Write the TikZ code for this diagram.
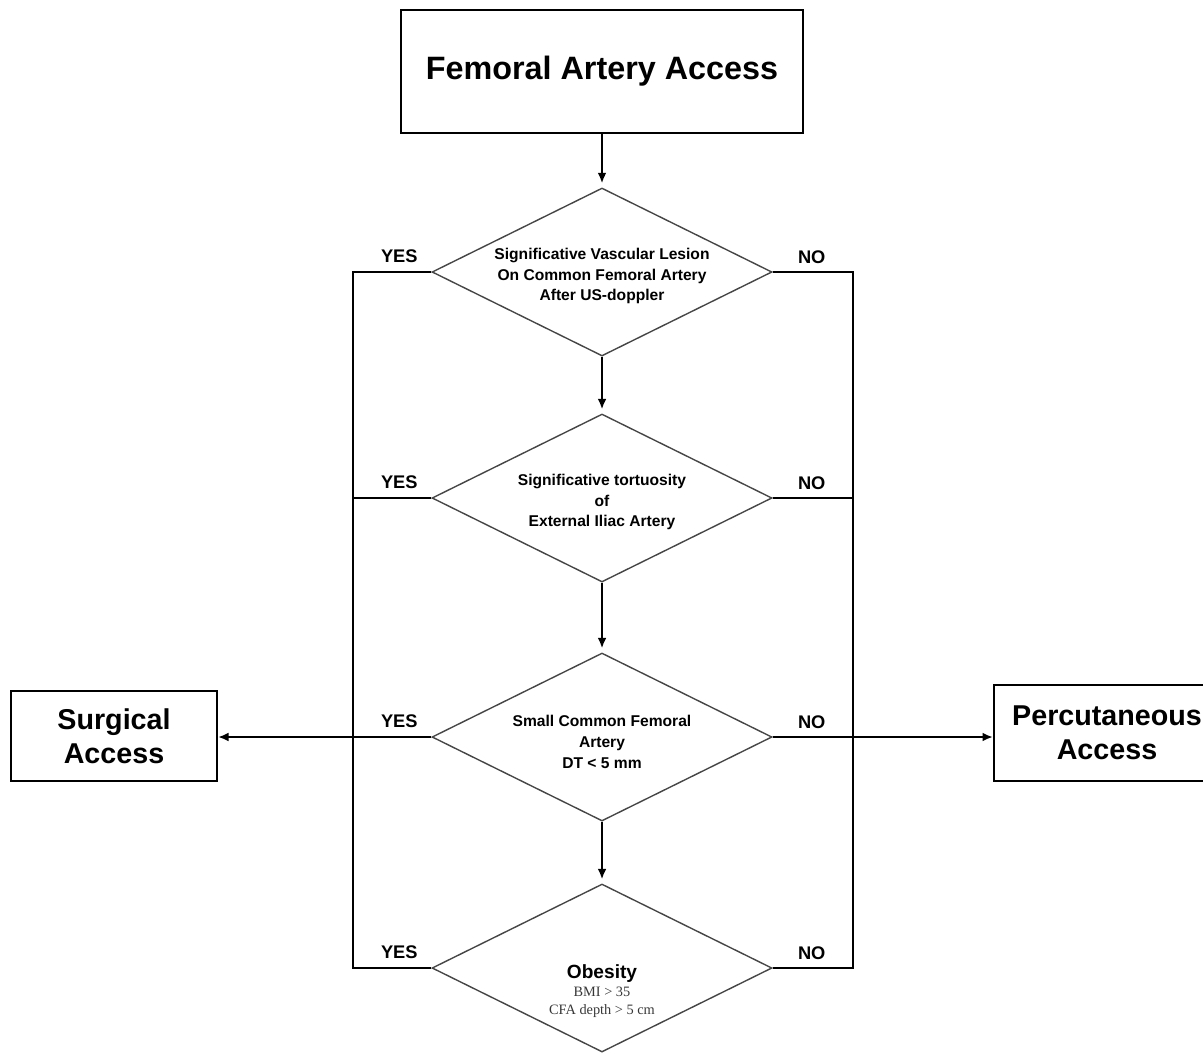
\documentclass[tikz,border=0pt]{standalone}
\usepackage{fontspec}
\setmainfont{Liberation Sans}
\newfontfamily\notefont{Liberation Serif}
\usepackage{tikz}
\usetikzlibrary{arrows.meta, positioning, shapes.geometric, calc}
\definecolor{edgegray}{RGB}{70,70,70}
\definecolor{notegray}{RGB}{55,55,55}

\begin{document}
\begin{tikzpicture}[
        x=0.25mm, y=-0.25mm,
        entry/.style={draw, line width=0.6mm, minimum width=100.5mm, minimum height=30.75mm, font=\fontsize{23}{27}\selectfont\bfseries},
        outcome/.style={draw, line width=0.55mm, align=center, inner sep=0pt, font=\fontsize{20.4}{24.5}\selectfont\bfseries},
        decision/.style={draw=edgegray, diamond, line width=0.35mm, inner sep=0pt, minimum width=85mm, minimum height=42mm},
        question/.style={align=center, inner sep=0pt, font=\fontsize{11.1}{14.8}\selectfont\bfseries},
        answer/.style={anchor=base, inner sep=0pt, font=\fontsize{13}{15}\selectfont\bfseries},
        link/.style={line width=0.5mm},
        arrow/.style={link, -{Latex[length=2.6mm, width=2.2mm]}, shorten >=1mm}
    ]
    \useasboundingbox (0,0) rectangle (1203,1052);

    % main column
    \node[entry] (femoral) at (602,71.5) {Femoral Artery Access};
    \node[decision] (lesion) at (602,272) {};
    \node[decision] (tortuosity) at (602,498) {};
    \node[decision] (small) at (602,737) {};
    \node[decision] (obesity) at (602,968) {};

    \node[question] (lesiontext) at (602,276) {Significative Vascular Lesion\\On Common Femoral Artery\\After US-doppler};
    \node[question] (tortuositytext) at (602,502) {Significative tortuosity\\of\\External Iliac Artery};
    \node[question] (smalltext) at (602,742) {Small Common Femoral\\Artery\\DT < 5 mm};
    \node[align=center, inner sep=0pt, text=notegray, font=\notefont\fontsize{10.2}{13}\selectfont] (obesitytext) at (602,991)
        {{\rmfamily\bfseries\color{black}\fontsize{13.6}{15}\selectfont Obesity}\\BMI > 35\\CFA depth > 5 cm};

    % outcomes
    \node[outcome, minimum width=51.5mm, minimum height=22.5mm] (surgical) at (114,736) {Surgical\\Access};
    \node[outcome, minimum width=56.5mm, minimum height=24mm] (percutaneous) at (1107,733) {Percutaneous\\Access};

    \coordinate (leftbus) at (353,0);
    \coordinate (rightbus) at (853,0);

    \draw[arrow] (femoral) -- (lesion);
    \draw[arrow] (lesion) -- (tortuosity);
    \draw[arrow] (tortuosity) -- (small);
    \draw[arrow] (small) -- (obesity);

    % YES branch
    \draw[link] (lesion.west) -- (lesion.west -| leftbus) -- (obesity.west -| leftbus) -- (obesity.west);
    \draw[link] (tortuosity.west) -- (tortuosity.west -| leftbus);
    \draw[arrow, shorten >=0pt] (small.west) -- (small.west -| surgical.east);

    % NO branch
    \draw[link] (lesion.east) -- (lesion.east -| rightbus) -- (obesity.east -| rightbus) -- (obesity.east);
    \draw[link] (tortuosity.east) -- (tortuosity.east -| rightbus);
    \draw[arrow, shorten >=0pt] (small.east) -- (small.east -| percutaneous.west);

    \foreach \q/\n in {lesion/1, tortuosity/2, small/3, obesity/4} {
        \node[answer] (yes\n) at ($(\q.west)+(-32,-10)$) {YES};
        \node[answer] (no\n) at ($(\q.east)+(39,-9)$) {NO};
    }
\end{tikzpicture}
\end{document}
